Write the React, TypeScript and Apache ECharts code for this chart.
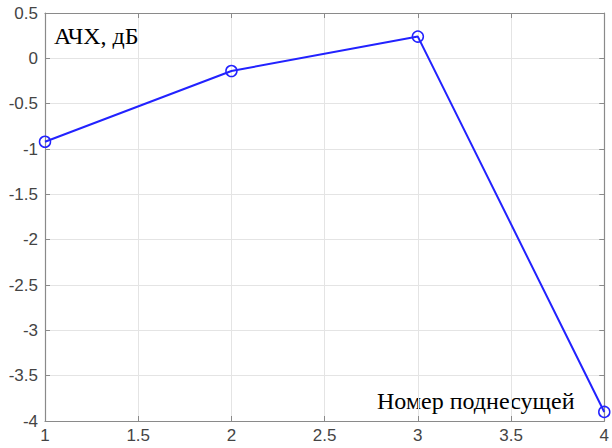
import React, { useEffect, useRef } from "react";
import * as echarts from "echarts";

const xValues = [1, 2, 3, 4];
const yValues = [-0.92, -0.14, 0.24, -3.9];
const yLabel = "АЧХ, дБ";
const xLabel = "Номер поднесущей";

export default function App() {
  const ref = useRef<HTMLDivElement>(null);
  useEffect(() => {
    document.body.style.margin = "0";
    const chart = echarts.init(ref.current!, null, { renderer: "svg" });
    const axisColor = "#8a8a8a";
    const gridLine = { show: true, lineStyle: { color: "#e4e4e4", width: 1 } };
    const line = { show: true, onZero: false, lineStyle: { color: axisColor, width: 1.2 } };
    const tick = { show: true, inside: true, length: 5, lineStyle: { color: axisColor } };
    chart.setOption({
      animation: false,
      backgroundColor: "#ffffff",
      grid: { left: 45, right: 1, top: 13, bottom: 27, containLabel: false },
      xAxis: [
        {
          type: "value",
          min: 1,
          max: 4,
          interval: 0.5,
          position: "bottom",
          axisLine: line,
          axisTick: tick,
          axisLabel: { show: true, fontSize: 17, color: "#444444", fontFamily: "Arial", margin: 6 },
          splitLine: gridLine,
        },
        {
          type: "value",
          min: 1,
          max: 4,
          interval: 0.5,
          position: "top",
          axisLine: line,
          axisTick: tick,
          axisLabel: { show: false },
          splitLine: { show: false },
        },
      ],
      yAxis: [
        {
          type: "value",
          min: -4,
          max: 0.5,
          interval: 0.5,
          position: "left",
          axisLine: line,
          axisTick: tick,
          axisLabel: { show: true, fontSize: 17, color: "#444444", fontFamily: "Arial", margin: 7 },
          splitLine: gridLine,
        },
        {
          type: "value",
          min: -4,
          max: 0.5,
          interval: 0.5,
          position: "right",
          axisLine: line,
          axisTick: tick,
          axisLabel: { show: false },
          splitLine: { show: false },
        },
      ],
      series: [
        {
          type: "line",
          data: xValues.map((x, i) => [x, yValues[i]]),
          symbol: "circle",
          symbolSize: 11,
          showSymbol: true,
          itemStyle: { color: "#ffffff00", borderColor: "#2222ff", borderWidth: 1.5 },
          lineStyle: { color: "#2222ff", width: 2 },
          clip: false,
        },
      ],
      graphic: [
        {
          type: "text",
          left: 54,
          top: 24,
          style: { text: yLabel, fontSize: 24, fontFamily: "'Liberation Serif', 'Times New Roman', serif", fill: "#000" },
        },
        {
          type: "text",
          left: 377,
          top: 389,
          style: { text: xLabel, fontSize: 24, fontFamily: "'Liberation Serif', 'Times New Roman', serif", fill: "#000" },
        },
      ],
    });
    return () => chart.dispose();
  }, []);
  return <div ref={ref} style={{ width: 612, height: 448 }} />;
}
